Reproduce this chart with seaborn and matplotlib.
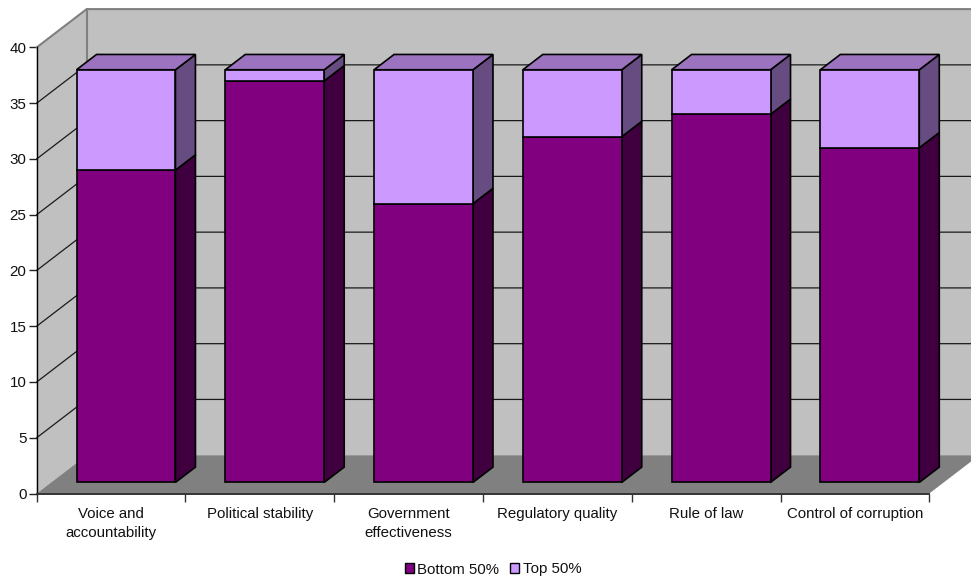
import numpy as np
import pandas as pd
import matplotlib
matplotlib.use("Agg")
import matplotlib.pyplot as plt
from matplotlib.patches import Polygon, Patch
import seaborn as sns

indicators = ["Voice and\naccountability", "Political stability", "Government\neffectiveness",
              "Regulatory quality", "Rule of law", "Control of corruption"]
bottom_half = [28, 36, 25, 31, 33, 30]
top_half = [9, 1, 12, 6, 4, 7]
value_ticks = [0, 5, 10, 15, 20, 25, 30, 35, 40]

W, H = 971, 576
LEFT, RIGHT, BASE, TOP = 36.7, 929.3, 493.5, 47.4

sns.set_theme(style="white")
plt.rcParams["font.family"] = ["Liberation Sans", "DejaVu Sans"]

fig = plt.figure(figsize=(W / 100, H / 100), dpi=100, facecolor="white")
ax = fig.add_axes([LEFT / W, 1 - BASE / H, (RIGHT - LEFT) / W, (BASE - TOP) / H])

df = pd.DataFrame({"indicator": indicators, "bottom": bottom_half, "top": top_half})

DARK, LIGHT = "#800080", "#CC99FF"
bar_style = dict(width=0.665, saturation=1, edgecolor="black", linewidth=1.2, ax=ax, zorder=3)
sns.barplot(data=df, x="indicator", y="bottom", color=DARK, **bar_style)
n_dark = len(ax.patches)
sns.barplot(data=df, x="indicator", y="top", bottom=df["bottom"].to_numpy(), color=LIGHT, **bar_style)

ax.set_xlim(-0.5, 5.5)
ax.set_ylim(0, 40)

# pixels per data unit, used to express the oblique projection in data coordinates
px_x = (RIGHT - LEFT) / 6
px_y = (BASE - TOP) / 40
wall_dx, wall_dy = 50 / px_x, 38.3 / px_y
shift_dx, shift_dy = 14.9 / px_x, 11.1 / px_y
depth_dx, depth_dy = 20 / px_x, 15.3 / px_y


def poly(points, face, edge="none", lw=0.0, z=0.5):
    ax.add_patch(Polygon(points, closed=True, facecolor=face, edgecolor=edge, linewidth=lw,
                         zorder=z, clip_on=False, joinstyle="miter"))


# box walls and floor
x0, x1 = -0.5, 5.5
poly([(x0, 0), (x0, 40), (x0 + wall_dx, 40 + wall_dy), (x0 + wall_dx, wall_dy)], "#C0C0C0")
poly([(x0 + wall_dx, wall_dy), (x0 + wall_dx, 40 + wall_dy), (x1 + wall_dx, 40 + wall_dy),
      (x1 + wall_dx, wall_dy)], "#C0C0C0")
poly([(x0, 0), (x0 + wall_dx, wall_dy), (x1 + wall_dx, wall_dy), (x1, 0)], "#808080")

edge_style = dict(color="#808080", lw=1.5, clip_on=False, zorder=0.7)
ax.plot([x0, x0 + wall_dx, x1 + wall_dx], [40, 40 + wall_dy, 40 + wall_dy], **edge_style)
ax.plot([x0 + wall_dx, x0 + wall_dx], [wall_dy, 40 + wall_dy], **edge_style)

for v in value_ticks[1:-1]:
    ax.plot([x0, x0 + wall_dx, x1 + wall_dx], [v, v + wall_dy, v + wall_dy],
            color="#1a1a1a", lw=0.9, clip_on=False, zorder=0.8)

# push each bar into the box and give it a top and a side face
bars = [b for b in ax.patches if b.get_zorder() == 3]
for i, bar in enumerate(bars):
    bar.set_x(bar.get_x() + shift_dx)
    bar.set_y(bar.get_y() + shift_dy)
    bar.set_clip_on(False)
    xl, xr = bar.get_x(), bar.get_x() + bar.get_width()
    yb, yt = bar.get_y(), bar.get_y() + bar.get_height()
    is_dark = i < n_dark
    poly([(xr, yb), (xr + depth_dx, yb + depth_dy), (xr + depth_dx, yt + depth_dy), (xr, yt)],
         "#400040" if is_dark else "#664C80", "black", 1.2, z=2.8)
    if not is_dark:
        poly([(xl, yt), (xl + depth_dx, yt + depth_dy), (xr + depth_dx, yt + depth_dy), (xr, yt)],
             "#9C73BF", "black", 1.2, z=2.8)

ax.set_xlabel("")
ax.set_ylabel("")
ax.set_yticks(value_ticks)
ax.set_xticks(np.arange(-0.5, 6), minor=True)
ax.tick_params(axis="x", which="major", length=0, pad=9.5, labelsize=10.8, labelcolor="#111111")
ax.tick_params(axis="x", which="minor", length=5.8, width=1.0, color="#333333", bottom=True)
ax.tick_params(axis="y", which="major", length=5.8, width=1.0, color="#222222", left=True,
               pad=1.5, labelsize=10.9, labelcolor="#111111")
for label in ax.get_xticklabels():
    label.set_linespacing(1.45)

for side in ("top", "right"):
    ax.spines[side].set_visible(False)
ax.spines["left"].set_color("black")
ax.spines["left"].set_linewidth(1.0)
ax.spines["bottom"].set_color("#333333")
ax.spines["bottom"].set_linewidth(1.4)

handles = [Patch(facecolor=DARK, edgecolor="black", linewidth=1.0, label="Bottom 50%"),
           Patch(facecolor=LIGHT, edgecolor="black", linewidth=1.0, label="Top 50%")]
fig.legend(handles=handles, loc="center", bbox_to_anchor=(493 / W, 1 - 569.5 / H), ncol=2, frameon=False,
           fontsize=10.8, handlelength=0.6, handleheight=0.6, handletextpad=0.25,
           columnspacing=0.7, borderpad=0, labelcolor="#111111")

fig.savefig("out.png", dpi=100, facecolor="white")
